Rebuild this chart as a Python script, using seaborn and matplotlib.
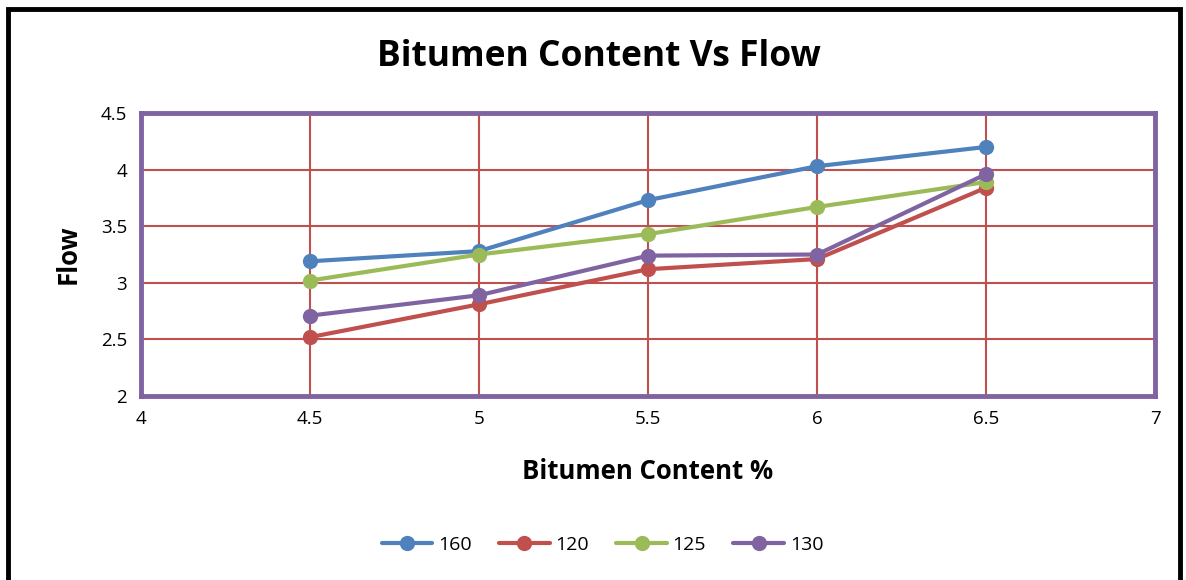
import pandas as pd
import matplotlib
matplotlib.use('Agg')
import matplotlib.pyplot as plt
import seaborn as sns
from matplotlib.patches import Rectangle

bitumen = [4.5, 5.0, 5.5, 6.0, 6.5]
flow_160 = [3.19, 3.28, 3.73, 4.03, 4.20]
flow_120 = [2.52, 2.81, 3.12, 3.21, 3.84]
flow_125 = [3.02, 3.25, 3.43, 3.67, 3.89]
flow_130 = [2.71, 2.89, 3.24, 3.25, 3.96]
series_names = ['160', '120', '125', '130']
colors = ['#4F81BD', '#C0504D', '#9BBB59', '#8064A2']

frames = []
for name, vals in zip(series_names, [flow_160, flow_120, flow_125, flow_130]):
    frames.append(pd.DataFrame({'bitumen': bitumen, 'flow': vals, 'series': name}))
df = pd.concat(frames, ignore_index=True)

sns.set_style('white')
plt.rcParams['font.family'] = ['Open Sans', 'DejaVu Sans']
plt.rcParams['text.color'] = 'black'
plt.rcParams['axes.labelcolor'] = 'black'
plt.rcParams['xtick.color'] = 'black'
plt.rcParams['ytick.color'] = 'black'

fig = plt.figure(figsize=(11.86, 5.8), dpi=100)
ax = fig.add_axes([0.1189, 0.3172, 0.8550, 0.4880])

sns.lineplot(data=df, x='bitumen', y='flow', hue='series', hue_order=series_names,
             palette=colors, marker='o', markersize=11, markeredgewidth=0,
             linewidth=3, ax=ax, zorder=3)

ax.set_xlim(4, 7)
ax.set_ylim(2, 4.5)
ax.set_xticks([4, 4.5, 5, 5.5, 6, 6.5, 7])
ax.set_xticklabels(['4', '4.5', '5', '5.5', '6', '6.5', '7'])
ax.set_yticks([2, 2.5, 3, 3.5, 4, 4.5])
ax.set_yticklabels(['2', '2.5', '3', '3.5', '4', '4.5'])
ax.tick_params(labelsize=13.5, length=0, pad=10)
ax.grid(True, color='#C0504D', linewidth=1.5)
ax.set_axisbelow(True)
for s in ax.spines.values():
    s.set_color('#8064A2')
    s.set_linewidth(3.5)
    s.set_visible(True)

ax.set_xlabel('Bitumen Content %', fontsize=18.5, fontweight='bold', labelpad=22)
ax.set_ylabel('Flow', fontsize=18.5, fontweight='bold', labelpad=14)
fig.text(0.505, 0.902, 'Bitumen Content Vs Flow', ha='center', va='center',
         fontsize=25.5, fontweight='bold')

handles, labels = ax.get_legend_handles_labels()
ax.legend(handles, labels, loc='center', bbox_to_anchor=(0.508, 0.06),
          bbox_transform=fig.transFigure, ncol=4, frameon=False, fontsize=14,
          handlelength=2.6, columnspacing=1.4, handletextpad=0.3)

fig.patches.append(Rectangle((0.0067, -0.05), 0.9885, 1.035, transform=fig.transFigure,
                             fill=False, edgecolor='black', linewidth=3.5, clip_on=False))

fig.savefig('out.png', dpi=100)
